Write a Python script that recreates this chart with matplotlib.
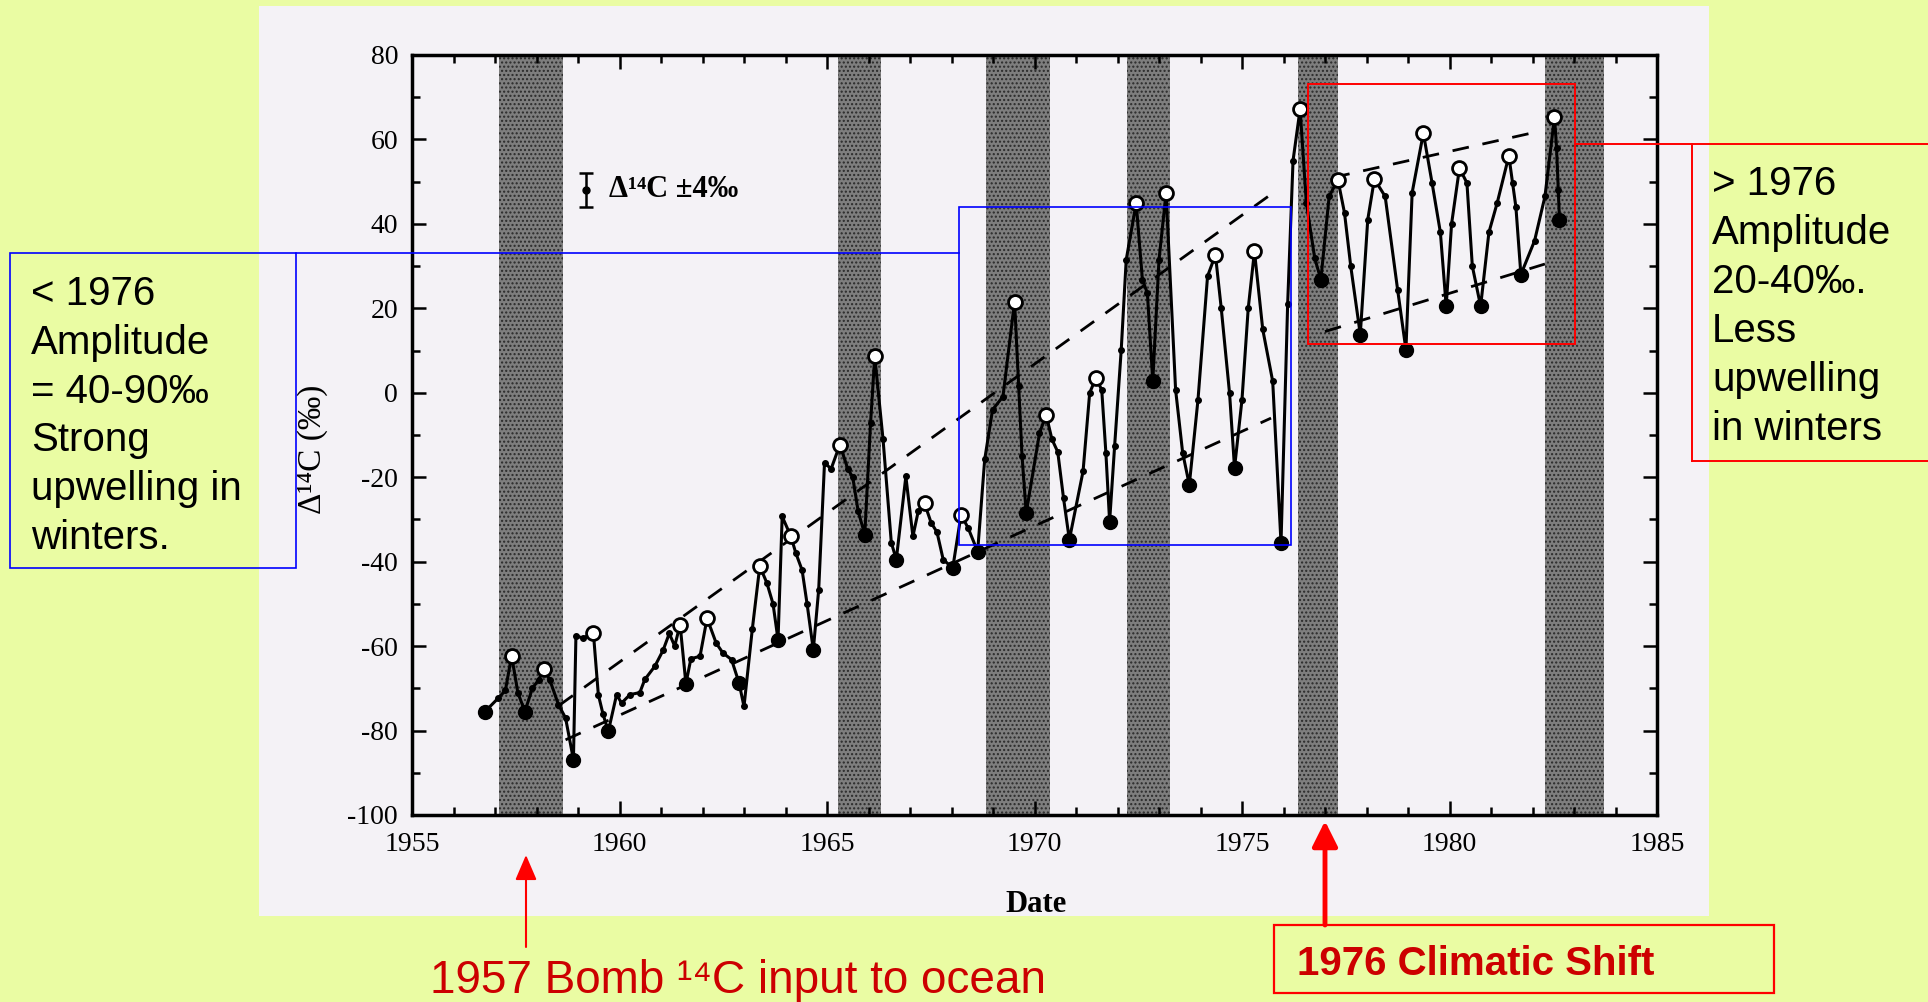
import numpy as np
import matplotlib.pyplot as plt
from matplotlib.patches import Rectangle, FancyArrowPatch
from matplotlib.lines import Line2D
from matplotlib.ticker import MultipleLocator

plt.rcParams['axes.unicode_minus'] = False

# open circles (seasonal maxima)
peak_year = [1957.40, 1958.18, 1959.37, 1961.46, 1962.11, 1963.38, 1964.13, 1965.31,
             1966.15, 1967.35, 1968.23, 1969.52, 1970.28, 1971.48, 1972.45, 1973.17,
             1974.36, 1975.30, 1976.40, 1977.31, 1978.19, 1979.37, 1980.24, 1981.43,
             1982.53]
peak_d14c = [-62.3, -65.4, -56.8, -54.9, -53.4, -41.1, -34.0, -12.3,
             8.6, -26.2, -28.9, 21.6, -5.2, 3.5, 44.9, 47.3,
             32.7, 33.5, 67.2, 50.5, 50.6, 61.5, 53.2, 56.1,
             65.3]

# filled circles (seasonal minima)
trough_year = [1956.76, 1957.72, 1958.89, 1959.73, 1961.60, 1962.88, 1963.82, 1964.67,
               1965.91, 1966.67, 1968.03, 1968.63, 1969.80, 1970.84, 1971.81, 1972.85,
               1973.73, 1974.82, 1975.94, 1976.90, 1977.85, 1978.95, 1979.92, 1980.75,
               1981.72, 1982.65]
trough_d14c = [-75.5, -75.5, -86.9, -80.2, -68.9, -68.7, -58.5, -60.9,
               -33.6, -39.5, -41.5, -37.6, -28.5, -34.8, -30.5, 2.7,
               -21.8, -17.8, -35.6, 26.8, 13.8, 10.2, 20.5, 20.5,
               28.0, 41.0]

# other samples (small dots)
mid_year = [1957.08, 1957.25, 1957.55, 1957.90, 1958.05, 1958.32, 1958.53, 1958.70,
            1958.95, 1959.13, 1959.49, 1959.60, 1959.93, 1960.05, 1960.25, 1960.49,
            1960.61, 1960.85, 1961.05, 1961.20, 1961.33, 1961.72, 1961.94, 1962.33,
            1962.49, 1962.70, 1963.00, 1963.20, 1963.55, 1963.70, 1963.92, 1964.25,
            1964.40, 1964.52, 1964.80, 1964.94, 1965.10, 1965.50, 1965.62, 1965.75,
            1966.05, 1966.35, 1966.55, 1966.90, 1967.07, 1967.20, 1967.51, 1967.65,
            1967.80, 1968.40, 1968.80, 1968.99, 1969.24, 1969.62, 1969.70, 1970.12,
            1970.42, 1970.56, 1970.70, 1971.17, 1971.33, 1971.62, 1971.72, 1971.93,
            1972.09, 1972.21, 1972.60, 1972.72, 1973.00, 1973.40, 1973.57, 1973.94,
            1974.17, 1974.50, 1974.70, 1975.00, 1975.15, 1975.50, 1975.74, 1976.10,
            1976.23, 1976.55, 1976.75, 1977.10, 1977.47, 1977.62, 1978.03, 1978.45,
            1978.75, 1979.10, 1979.58, 1979.78, 1980.05, 1980.42, 1980.55, 1980.95,
            1981.15, 1981.52, 1981.60, 1982.05, 1982.30, 1982.58, 1982.62]
mid_d14c = [-72.3, -70.5, -71.0, -70.0, -68.0, -68.0, -73.9, -77.0,
            -57.6, -58.1, -71.5, -76.0, -71.5, -73.5, -71.5, -71.0,
            -67.9, -64.8, -61.0, -57.0, -60.0, -63.0, -62.4, -59.3,
            -61.6, -63.2, -74.3, -56.0, -45.0, -50.0, -29.3, -38.0,
            -42.0, -50.0, -46.6, -16.6, -18.0, -18.0, -20.0, -28.0,
            -7.1, -11.0, -35.5, -19.8, -34.0, -28.0, -30.8, -33.0,
            -39.5, -32.0, -15.8, -4.0, -0.9, 1.5, -15.0, -9.6,
            -11.0, -14.0, -25.0, -18.6, 0.0, 0.7, -14.2, -12.7,
            10.2, 31.5, 26.8, 23.6, 31.5, 0.7, -14.2, -1.6,
            27.6, 20.0, -0.1, -1.6, 20.0, 15.0, 2.7, 21.0,
            55.0, 45.0, 32.0, 46.5, 42.6, 30.0, 41.0, 46.5,
            24.4, 47.4, 49.7, 38.0, 40.0, 49.7, 30.0, 38.0,
            45.0, 49.7, 44.0, 36.0, 46.5, 58.0, 48.0]

# envelope lines
upper_pre = ([1958.55, 1975.70], [-74.0, 47.0])
lower_pre = ([1958.70, 1975.70], [-82.2, -6.0])
upper_post = ([1977.20, 1982.20], [51.0, 62.0])
lower_post = ([1977.00, 1982.30], [14.5, 30.5])

# shaded periods
band_start = [1957.09, 1965.27, 1968.84, 1972.23, 1976.35, 1982.30]
band_end = [1958.65, 1966.29, 1970.38, 1973.27, 1977.31, 1983.72]

W, H = 1928, 1002


def fx(px):
    return px / W


def fy(py):
    return 1 - py / H


SERIF = ['Liberation Serif', 'DejaVu Serif']
SANS = ['Liberation Sans', 'DejaVu Sans']

fig = plt.figure(figsize=(W / 100, H / 100), dpi=100, facecolor='#eafca3')

# scanned "paper" area
fig.add_artist(Rectangle((fx(259), fy(916)), fx(1709) - fx(259), fy(6) - fy(916),
                         transform=fig.transFigure, facecolor='#f4f2f6',
                         edgecolor='none', zorder=-5))

ax = fig.add_axes([fx(412), fy(815), (1657 - 412) / W, (815 - 55) / H])
ax.set_facecolor('#f4f2f6')

for s, e in zip(band_start, band_end):
    ax.axvspan(s, e, facecolor='#7e7e7e', edgecolor='#2a2a2a', hatch='....',
               linewidth=0, zorder=1)

for xs, ys in (upper_pre, lower_pre, upper_post, lower_post):
    ax.plot(xs, ys, color='black', lw=2, ls=(0, (6, 5)), zorder=2)

yrs = np.concatenate([peak_year, trough_year, mid_year])
vals = np.concatenate([peak_d14c, trough_d14c, mid_d14c])
order = np.argsort(yrs)
ax.plot(yrs[order], vals[order], color='black', lw=2.2, zorder=3)
ax.plot(mid_year, mid_d14c, 'o', color='black', ms=4, zorder=4)
ax.plot(trough_year, trough_d14c, 'o', color='black', ms=10, zorder=5)
ax.plot(peak_year, peak_d14c, 'o', mfc='white', mec='black', mew=2, ms=10, zorder=5)

# error bar key
ax.errorbar([1959.2], [48.1], yerr=4, fmt='o', color='black', ms=5, capsize=5,
            lw=1.8, capthick=1.8, zorder=5)
ax.text(1959.75, 48.1, 'Δ¹⁴C ±4‰', va='center', ha='left', fontsize=22,
        fontweight='bold', family=SERIF, zorder=6)

ax.set_xlim(1955, 1985)
ax.set_ylim(-100, 80)
ax.xaxis.set_major_locator(MultipleLocator(5))
ax.xaxis.set_minor_locator(MultipleLocator(1))
ax.yaxis.set_major_locator(MultipleLocator(20))
ax.yaxis.set_minor_locator(MultipleLocator(10))
ax.tick_params(which='both', direction='in', top=True, right=True, width=1.8)
ax.tick_params(which='major', length=10)
ax.tick_params(which='minor', length=6)
ax.tick_params(axis='x', pad=12)
ax.tick_params(axis='y', pad=10)
for lab in ax.get_xticklabels() + ax.get_yticklabels():
    lab.set_family(SERIF)
    lab.set_fontsize(20)
for sp in ax.spines.values():
    sp.set_linewidth(2.5)

fig.text(fx(313), fy(449), 'Δ¹⁴C (‰)', rotation=90, ha='center', va='center',
         fontsize=24, family=SERIF)
fig.text(fx(1036), fy(904), 'Date', ha='center', va='center', fontsize=22,
         fontweight='bold', family=SERIF)

# annotation boxes and connectors
def seg(x0, y0, x1, y1, color, lw):
    fig.add_artist(Line2D([fx(x0), fx(x1)], [fy(y0), fy(y1)], transform=fig.transFigure,
                          color=color, lw=lw, zorder=10))


def box(x0, y0, x1, y1, color, lw):
    fig.add_artist(Rectangle((fx(x0), fy(y1)), fx(x1) - fx(x0), fy(y0) - fy(y1),
                             transform=fig.transFigure, fill=False, edgecolor=color,
                             lw=lw, zorder=10))


blue = '#0000ff'
red = '#ff0000'
box(10, 253, 296, 568, blue, 1.2)
seg(296, 253, 959, 253, blue, 1.2)
box(959, 207, 1291, 545, blue, 1.2)

box(1308, 84, 1575, 344, red, 1.4)
seg(1575, 144, W, 144, red, 1.4)
seg(1692, 144, 1692, 461, red, 1.4)
seg(1692, 461, W, 461, red, 1.4)

fig.text(fx(31), fy(275), '< 1976\nAmplitude\n= 40-90‰\nStrong\nupwelling in\nwinters.',
         ha='left', va='top', fontsize=29, family=SANS, linespacing=1.36, zorder=11)
fig.text(fx(1712), fy(165), '> 1976\nAmplitude\n20-40‰.\nLess\nupwelling\nin winters',
         ha='left', va='top', fontsize=29, family=SANS, linespacing=1.37, zorder=11)

# arrows and bottom notes
fig.add_artist(FancyArrowPatch((fx(526), fy(947)), (fx(526), fy(855)),
                               transform=fig.transFigure, arrowstyle='-|>,head_length=0.7,head_width=0.3',
                               mutation_scale=22, color=red, lw=1.5, shrinkA=0, shrinkB=0,
                               zorder=10))
fig.add_artist(FancyArrowPatch((fx(1325), fy(925)), (fx(1325), fy(821)),
                               transform=fig.transFigure, arrowstyle='-|>,head_length=0.7,head_width=0.35',
                               mutation_scale=22, color=red, lw=3.5, shrinkA=0, shrinkB=0,
                               zorder=10))

fig.text(fx(430), fy(993), '1957 Bomb ¹⁴C input to ocean', ha='left', va='baseline',
         fontsize=33, color='#cc0000', family=SANS, zorder=11)
box(1274, 925, 1774, 993, red, 1.6)
fig.text(fx(1297), fy(975), '1976 Climatic Shift', ha='left', va='baseline',
         fontsize=29, fontweight='bold', color='#cc0000', family=SANS, zorder=11)

fig.savefig('out.png', dpi=100, facecolor=fig.get_facecolor())
